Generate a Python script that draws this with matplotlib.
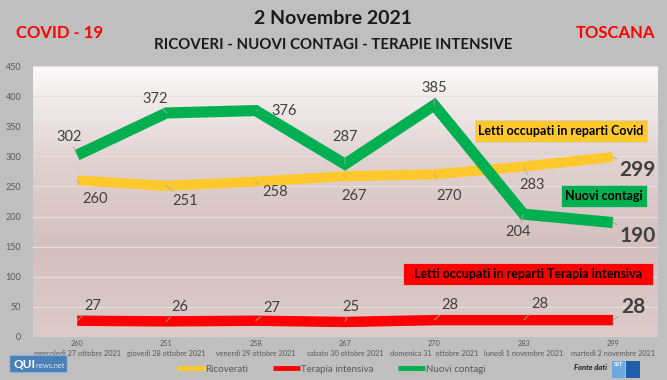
import numpy as np
import matplotlib.pyplot as plt
from matplotlib.colors import LinearSegmentedColormap
from matplotlib.patches import Rectangle, FancyBboxPatch

# Dati
date = ['mercoledì 27 ottobre 2021', 'giovedì 28 ottobre 2021', 'venerdì 29 ottobre 2021',
        'sabato 30 ottobre 2021', 'domenica 31  ottobre 2021', 'lunedì 1 novembre 2021',
        'martedì 2 novembre 2021']
ricoverati = [260, 251, 258, 267, 270, 283, 299]
terapia = [27, 26, 27, 25, 28, 28, 28]
contagi = [302, 372, 376, 287, 385, 204, 190]

GIALLO = '#ffc92e'
ROSSO = '#ff0000'
VERDE = '#00b050'
GRIGIO = '#404040'

plt.rcParams['font.family'] = ['Lato', 'DejaVu Sans']

fig = plt.figure(figsize=(6.67, 3.80), dpi=100)
fig.patch.set_facecolor('#bfbfbf')
ax = fig.add_axes([32.5 / 667, 43 / 380, 625 / 667, 271 / 380])

x = np.arange(len(date))
ax.set_xlim(-0.5, len(date) - 0.5)
ax.set_ylim(0, 450)

# sfondo sfumato
grad = LinearSegmentedColormap.from_list('g', ['#ddcbcb', '#d4c0c0', '#e2d3d3', '#fafafa'])
ax.imshow(np.linspace(0, 1, 256).reshape(-1, 1), extent=(-0.5, len(date) - 0.5, 0, 450),
          origin='lower', aspect='auto', cmap=grad, zorder=0)
for s in ax.spines.values():
    s.set_visible(False)
ax.set_yticks(range(0, 451, 50))
ax.yaxis.grid(True, color='#eadfdf', lw=0.8, zorder=1)
ax.tick_params(length=0, labelsize=6.5, labelcolor='#595959', pad=8)
ax.set_xticks(x)
ax.set_xticklabels([f'{r}\n{d}' for r, d in zip(ricoverati, date)], fontsize=5.3,
                   color='#595959', linespacing=1.6)
ax.tick_params(axis='x', pad=2)

kw = dict(solid_capstyle='butt', solid_joinstyle='miter', zorder=3)
ax.plot(x, ricoverati, color=GIALLO, lw=7.3, label='Ricoverati', **kw)
ax.plot(x, terapia, color=ROSSO, lw=7.5, label='Terapia intensiva', **kw)
ax.plot(x, contagi, color=VERDE, lw=8, label='Nuovi contagi', **kw)

# etichette (offset in pixel)
off_verde = [(-8, 18), (-11, 14), (28, 0), (0, 27), (0, 17), (-5, -18), (25, -13)]
off_giallo = [(18, -19), (19, -15), (19, -10), (9, -20), (15, -22), (9, -18), (25, -13)]
off_rosso = [(16, 15), (13, 14), (16, 13), (6, 15), (16, 15), (16, 16), (21, 13)]


def etichette(valori, offs):
    for i, (v, (dx, dy)) in enumerate(zip(valori, offs)):
        ultimo = i == len(valori) - 1
        ax.annotate(str(v), (i, v), xytext=(dx, dy), textcoords='offset pixels',
                    ha='center', va='center', color=GRIGIO,
                    fontsize=15 if ultimo else 10.5,
                    fontweight='bold' if ultimo else 'normal', zorder=5,
                    arrowprops=dict(arrowstyle='-', color='#a6a6a6', lw=0.6,
                                    shrinkA=7, shrinkB=0))


etichette(contagi, off_verde)
etichette(ricoverati, off_giallo)
etichette(terapia, off_rosso)

# riquadri
def riquadro(x0, y0, x1, y1, colore, testo):
    fig.patches.append(Rectangle((x0 / 667, 1 - y1 / 380), (x1 - x0) / 667, (y1 - y0) / 380,
                                 transform=fig.transFigure, facecolor=colore,
                                 edgecolor='#d0d0d0', lw=0.5, zorder=6))
    fig.text((x0 + x1) / 2 / 667, 1 - (y0 + y1) / 2 / 380, testo, ha='center', va='center',
             fontsize=9, fontweight='bold', color='black', zorder=7)


riquadro(475, 120, 647, 142, GIALLO, 'Letti occupati in reparti Covid')
riquadro(561, 185, 647, 207, VERDE, 'Nuovi contagi')
riquadro(403, 263, 653, 285, ROSSO, 'Letti occupati in reparti Terapia intensiva')

# titoli
fig.text(0.5, 1 - 18 / 380, '2 Novembre 2021', ha='center', va='center',
         fontsize=14, fontweight='bold', color='#1a1a1a')
fig.text(0.5, 1 - 45 / 380, 'RICOVERI - NUOVI CONTAGI - TERAPIE INTENSIVE', ha='center',
         va='center', fontsize=10.8, fontweight='bold', color='#1a1a1a')
fig.text(16 / 667, 1 - 33 / 380, 'COVID - 19', ha='left', va='center',
         fontsize=12, fontweight='bold', color=ROSSO)
fig.text(655 / 667, 1 - 33 / 380, 'TOSCANA', ha='right', va='center',
         fontsize=12, fontweight='bold', color=ROSSO)

# legenda
fig.legend(loc='center', bbox_to_anchor=(0.497, 1 - 369 / 380), ncol=3, frameon=False,
           fontsize=7, handlelength=2.8, columnspacing=2.5, handletextpad=0.1,
           labelcolor='#595959')
for l in fig.legends[0].get_lines():
    l.set_linewidth(3.5)

# logo QUInews
fig.patches.append(FancyBboxPatch((11 / 667, 1 - 372 / 380), 55 / 667, 16 / 380,
                                  boxstyle='round,pad=0.002', transform=fig.transFigure,
                                  facecolor='#4a7fb8', edgecolor='#9cb8d8', lw=0.8))
fig.text(13 / 667, 1 - 364 / 380, 'QUI', fontsize=8.5, fontweight='bold', color='white',
         va='center', ha='left')
fig.text(36 / 667, 1 - 366 / 380, 'news.net', fontsize=5.3, color='#dbe6f2',
         va='center', ha='left')

# fonte dati
fig.text(607 / 667, 1 - 368 / 380, 'Fonte dati', fontsize=5.5, fontstyle='italic',
         fontweight='bold', color='#1a1a1a', ha='right', va='center')
fig.patches.append(Rectangle((612 / 667, 1 - 378 / 380), 13 / 667, 17 / 380,
                             transform=fig.transFigure, facecolor='#6ea8dc'))
fig.patches.append(Rectangle((626 / 667, 1 - 378 / 380), 14 / 667, 17 / 380,
                             transform=fig.transFigure, facecolor='#1f5ea8'))
fig.text(618.5 / 667, 1 - 365 / 380, 'SST', fontsize=4, fontweight='bold', color='white',
         ha='center', va='center')

fig.savefig('out.png', dpi=100, facecolor=fig.get_facecolor())
